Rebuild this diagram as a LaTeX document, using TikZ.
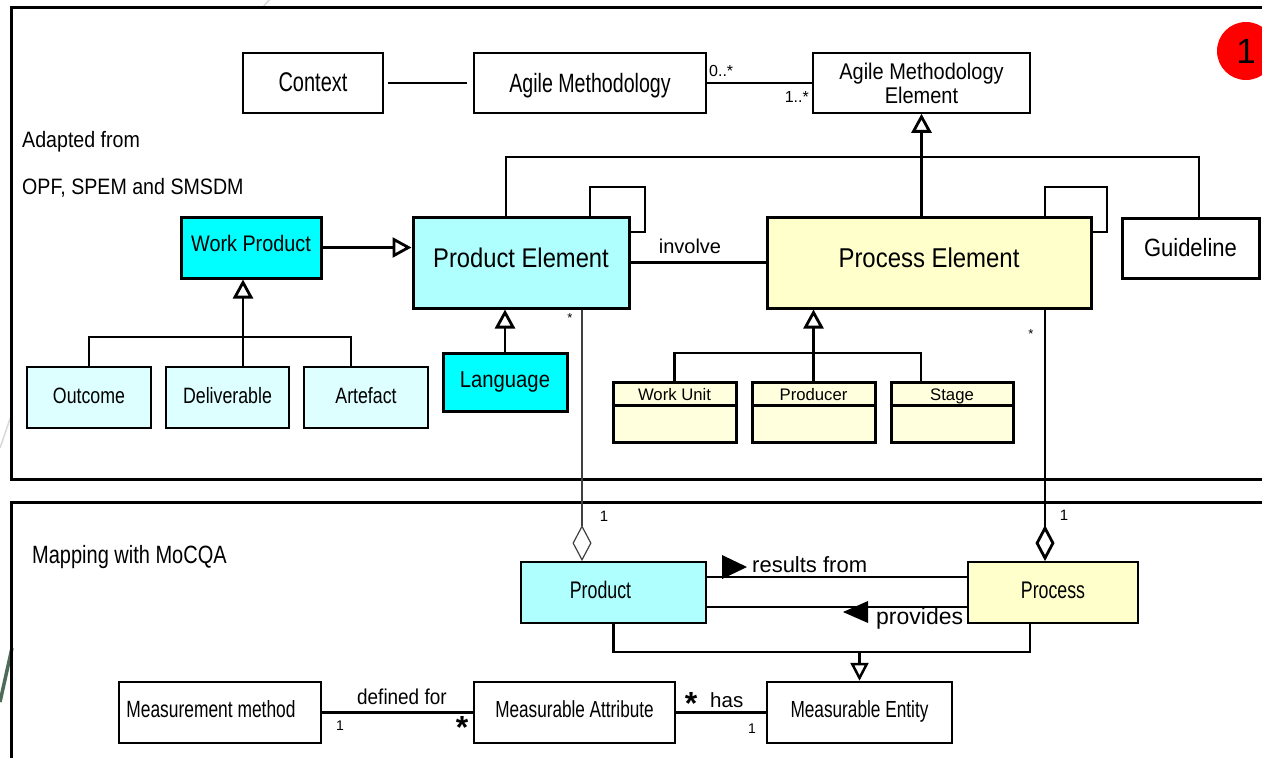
\documentclass[tikz,border=0pt]{standalone}
\usepackage{fontspec}
\setmainfont{Liberation Sans}
\newfontfamily\fA[FakeStretch=0.74]{Liberation Sans}
\newfontfamily\fB[FakeStretch=0.80]{Liberation Sans}
\newfontfamily\fC[FakeStretch=0.88]{Liberation Sans}
\newcommand\fsz[1]{\fontsize{#1pt}{#1pt}\selectfont}
\usetikzlibrary{arrows.meta}
\definecolor{cyanA}{HTML}{00FFFF}
\definecolor{cyanB}{HTML}{AFFFFF}
\definecolor{cyanC}{HTML}{DDFFFF}
\definecolor{yelA}{HTML}{FFFFCC}
\definecolor{yelB}{HTML}{FFFFDD}
\definecolor{decgreen}{HTML}{4D6B58}
\begin{document}
\begin{tikzpicture}[x=1pt,y=-1pt,
  box/.style={draw, rectangle, inner sep=0pt, line width=#1},
  box/.default=1.5pt,
  thk/.style={line width=2.8pt},
  thk2/.style={line width=2.5pt},
  thinc/.style={line width=1.2pt, draw=black!75},
  gen/.style={line width=2.8pt, -{Triangle[fill=white, length=19pt, width=20pt]}},
  gen2/.style={line width=2.5pt, -{Triangle[fill=white, length=18pt, width=18pt]}},
  agg/.style={-{Diamond[fill=white, length=36pt, width=19pt]}},
  lbl/.style={inner sep=0pt},
]
\useasboundingbox (0,0) rectangle (1262,758);
\clip (0,0) rectangle (1262,758);
\fill[white] (0,0) rectangle (1262,758);
% background decoration
\draw[black!15, line width=1.5pt] (263,7) -- (270,-1);
\draw[black!15, line width=1.5pt] (0,448) -- (11,416);
\draw[decgreen, line width=3.5pt] (0,702) -- (12,648);
% frames
\draw[line width=3pt] (11,7) rectangle (1300,479);
\draw[line width=3pt] (11,502) rectangle (1300,800);

% top section
\node[box, minimum width=140pt, minimum height=60pt, font=\fA\fsz{27}, text height=19.4pt, text depth=3pt] (ctx) at (313,83) {Context};
\node[box, minimum width=232pt, minimum height=60pt, font=\fA\fsz{26.5}, text height=19.1pt, text depth=0pt] (am) at (590,83) {Agile Methodology};
\node[box, minimum width=217pt, minimum height=60pt, font=\fC\fontsize{22.7pt}{24pt}\selectfont, align=center, text depth=0pt] (ame) at (921.5,83) {Agile Methodology\\Element};

\node[lbl, anchor=base west, font=\fC\fsz{22.3}] (adap1) at (22,147) {Adapted from};
\node[lbl, anchor=base west, font=\fC\fsz{22.3}] (adap2) at (22,194) {OPF, SPEM and SMSDM};

\node[box=3pt, fill=cyanA, minimum width=140pt, minimum height=61pt, font=\fC\fsz{22.5}, text height=16.2pt, text depth=8pt] (wp) at (251,247.5) {Work Product};
\node[box=3pt, fill=cyanB, minimum width=216pt, minimum height=91pt, font=\fC\fsz{27}, text height=19.4pt, text depth=10pt] (pe) at (521,262.5) {Product Element};
\node[box=3pt, fill=yelA, minimum width=324pt, minimum height=91pt, font=\fC\fsz{27.2}, text height=19.6pt, text depth=10pt] (proce) at (929,262.5) {Process Element};
\node[box=3pt, fill=white, minimum width=137pt, minimum height=60pt, font=\fC\fsz{25}, text height=18pt, text depth=2pt] (guide) at (1190.5,248) {Guideline};

\node[box=2.8pt, fill=cyanC, minimum width=124pt, minimum height=61pt, font=\fB\fsz{22.2}, text height=16pt, text depth=5pt] (outc) at (89,397.5) {Outcome};
\node[box=2.8pt, fill=cyanC, minimum width=123pt, minimum height=61pt, font=\fB\fsz{22.2}, text height=16pt, text depth=5pt] (deliv) at (227.5,397.5) {Deliverable};
\node[box=2.8pt, fill=cyanC, minimum width=124pt, minimum height=61pt, font=\fB\fsz{22.2}, text height=16pt, text depth=5pt] (artef) at (366,397.5) {Artefact};
\node[box=3pt, fill=cyanA, minimum width=124pt, minimum height=58pt, font=\fC\fsz{23}, text height=16.6pt, text depth=6pt] (lang) at (505,382) {Language};

\node[box=3pt, fill=yelB, minimum width=123pt, minimum height=60pt, font=\fsz{16.7}, text height=12pt, text depth=35pt] (wu) at (674.5,412) {Work Unit};
\node[box=3pt, fill=yelB, minimum width=123pt, minimum height=60pt, font=\fsz{16.7}, text height=12pt, text depth=35pt] (prodr) at (813.5,412) {Producer};
\node[box=3pt, fill=yelB, minimum width=122pt, minimum height=60pt, font=\fsz{16.7}, text height=12pt, text depth=35pt] (stage) at (952,412) {Stage};
\foreach \n in {wu,prodr,stage}
  \draw[line width=2.5pt] ([yshift=-25pt]\n.north west) -- ([yshift=-25pt]\n.north east);

% top connectors
\draw[line width=1.3pt, shorten <=4pt, shorten >=6pt] (ctx.east) -- (am.west);
\draw[line width=1.3pt] (am.east) -- (ame.west);
\node[lbl, anchor=base west, font=\fsz{16}] (m1) at (709,76) {0..*};
\node[lbl, anchor=base east, font=\fsz{16}] (m2) at (809,102) {1..*};

\coordinate (barL) at (506,157);
\coordinate (barR) at (1199,157);
\draw[thk] (barL |- pe.north) -- (barL) -- (barR) -- (barR |- guide.north);
\draw[gen] (ame.south |- proce.north) -- (ame.south);

\draw[gen] (wp.east) -- (wp.east -| pe.west);
\coordinate (wpj) at (243,337);
\coordinate (artx) at (351,337);
\draw[thk] (outc.north) |- (artx) -- (artx |- artef.north);
\draw[thk] (wpj |- deliv.north) -- (wpj);
\draw[gen] (wpj) -- (wpj |- wp.south);

\draw[gen] (lang.north) -- (lang.north |- pe.south);

\coordinate (pl1) at (590,187);
\coordinate (pl2) at (645,232);
\draw[thk] (pl1 |- pe.north) -- (pl1) -| (pl2) -- (pl2 -| pe.east);
\coordinate (ql1) at (1045,187);
\coordinate (ql2) at (1107,232);
\draw[thk] (ql1 |- proce.north) -- (ql1) -| (ql2) -- (ql2 -| proce.east);

\draw[thk] (pe.east) -- (proce.west);
\node[lbl, anchor=base, font=\fsz{20}] (inv) at (690,253) {involve};

\coordinate (pej) at (813.5,353);
\coordinate (stx) at (921,353);
\draw[thk] (wu.north) |- (stx) -- (stx |- stage.north);
\draw[thk] (prodr.north) -- (pej);
\draw[gen] (pej) -- (pej |- proce.south);

% bottom section
\node[lbl, anchor=base west, font=\fB\fsz{25}] (mapt) at (32,563) {Mapping with MoCQA};

\node[box=1.8pt, fill=cyanB, minimum width=185pt, minimum height=61pt, font=\fA\fsz{24}, text height=17.3pt, text depth=6pt] (product) at (613.5,592.5) {\hspace*{-26pt}Product};
\node[box=1.8pt, fill=yelA, minimum width=170pt, minimum height=61pt, font=\fA\fsz{24}, text height=17.3pt, text depth=5pt] (process) at (1053,592.5) {Process};

\node[box=2.5pt, fill=white, minimum width=202pt, minimum height=61pt, font=\fA\fsz{23.5}, text height=17pt, text depth=7pt] (mm) at (220,712.5) {\hspace*{-18pt}Measurement method};
\node[box=2.5pt, fill=white, minimum width=201pt, minimum height=61pt, font=\fA\fsz{23.2}, text height=16.7pt, text depth=7pt] (ma) at (574.5,712.5) {Measurable Attribute};
\node[box=2.5pt, fill=white, minimum width=185pt, minimum height=61pt, font=\fA\fsz{23.3}, text height=16.8pt, text depth=7pt] (me) at (859.5,712.5) {Measurable Entity};

% aggregations
\coordinate (px) at (582,0);
\draw[thinc, agg] (px |- pe.south) -- (px |- product.north);
\coordinate (qx) at (1045,0);
\draw[thk, agg] (qx |- proce.south) -- (qx |- process.north);
\node[lbl, anchor=north, font=\fsz{13}] (s1) at (570,313) {*};
\node[lbl, anchor=north, font=\fsz{13}] (s2) at (1031,329) {*};
\node[lbl, anchor=base, font=\fsz{15}] (o1) at (604,521) {1};
\node[lbl, anchor=base, font=\fsz{15}] (o2) at (1064,520) {1};

% results from / provides
\coordinate (r1) at (0,577);
\coordinate (r2) at (0,607);
\draw[thk] (product.east |- r1) -- (process.west |- r1);
\draw[thk] (product.east |- r2) -- (process.west |- r2);
\fill (722,555) -- (747,567) -- (722,579) -- cycle;
\fill (843,612) -- (868,601) -- (868,623) -- cycle;
\node[lbl, anchor=base west, font=\fsz{22}] (rf) at (752,572) {results from};
\node[lbl, anchor=base west, font=\fsz{23}] (pv) at (876,624) {provides};

% generalisation to Measurable Entity
\coordinate (mej) at (859.5,652);
\coordinate (pcx) at (1030,652);
\draw[thk] (product.south) |- (pcx) -- (pcx |- process.south);
\draw[gen2] (mej) -- (me.north);

% associations
\draw[thk2] (mm.east) -- (ma.west);
\draw[thk2] (ma.east) -- (me.west);
\node[lbl, anchor=base west, font=\fC\fsz{21.5}] (df) at (357,704) {defined for};
\node[lbl, anchor=base, font=\fsz{14}] (o3) at (340,730) {1};
\node[lbl, anchor=north, font=\bfseries\fsz{32}] (s3) at (462,716) {*};
\node[lbl, anchor=north, font=\bfseries\fsz{32}] (s4) at (691,692) {*};
\node[lbl, anchor=base west, font=\fsz{20.5}] (hs) at (710,707) {has};
\node[lbl, anchor=base, font=\fsz{14}] (o4) at (752,733) {1};

% badge
\node[circle, fill=red, minimum size=58pt, inner sep=0pt, font=\fsz{35}] (badge) at (1246,51) {1};
\end{tikzpicture}
\end{document}
